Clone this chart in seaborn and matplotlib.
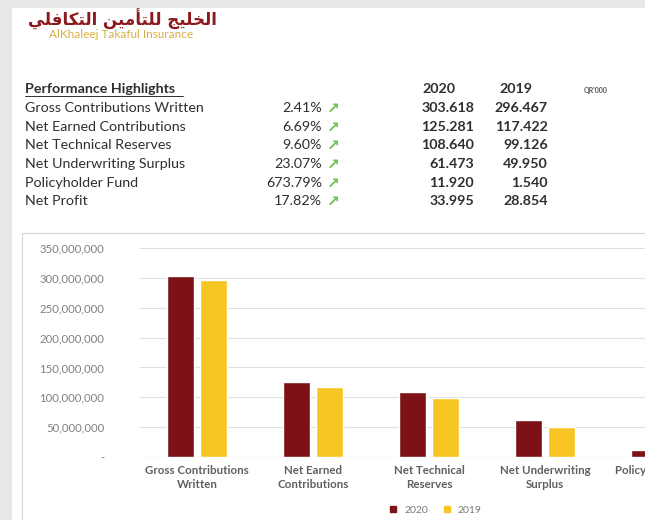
import seaborn as sns
import matplotlib.pyplot as plt
import pandas as pd
from matplotlib.patches import Rectangle
from matplotlib.lines import Line2D
from matplotlib.ticker import FuncFormatter

# Data (QR'000)
metrics = ["Gross Contributions Written", "Net Earned Contributions", "Net Technical Reserves",
           "Net Underwriting Surplus", "Policyholder Fund", "Net Profit"]
change_pct = ["2.41%", "6.69%", "9.60%", "23.07%", "673.79%", "17.82%"]
values_2020 = [303.618, 125.281, 108.640, 61.473, 11.920, 33.995]
values_2019 = [296.467, 117.422, 99.126, 49.950, 1.540, 28.854]
chart_labels = ["Gross Contributions\nWritten", "Net Earned\nContributions", "Net Technical\nReserves",
                "Net Underwriting\nSurplus", "Policyholder Fund", "Net Profit"]
years = ["2020", "2019"]
logo_ar = "الخليج للتأمين التكافلي"
logo_en = "AlKhaleej Takaful Insurance"

DARK_RED = "#7c1116"
GOLD = "#f8c624"

# matplotlib has no Arabic shaping: map letters to presentation forms, visual order
FORMS = {  # isolated, final, initial, medial
    'ا': ('\uFE8D', '\uFE8E', None, None),
    'أ': ('\uFE83', '\uFE84', None, None),
    'ل': ('\uFEDD', '\uFEDE', '\uFEDF', '\uFEE0'),
    'خ': ('\uFEA5', '\uFEA6', '\uFEA7', '\uFEA8'),
    'ي': ('\uFEF1', '\uFEF2', '\uFEF3', '\uFEF4'),
    'ج': ('\uFE9D', '\uFE9E', '\uFE9F', '\uFEA0'),
    'ت': ('\uFE95', '\uFE96', '\uFE97', '\uFE98'),
    'م': ('\uFEE1', '\uFEE2', '\uFEE3', '\uFEE4'),
    'ن': ('\uFEE5', '\uFEE6', '\uFEE7', '\uFEE8'),
    'ك': ('\uFED9', '\uFEDA', '\uFEDB', '\uFEDC'),
    'ف': ('\uFED1', '\uFED2', '\uFED3', '\uFED4'),
}


def shape_word(word):
    out = []
    for i, ch in enumerate(word):
        f = FORMS[ch]
        prev_j = i > 0 and FORMS[word[i - 1]][2] is not None
        next_j = i < len(word) - 1 and f[2] is not None
        if prev_j and next_j:
            out.append(f[3])
        elif prev_j:
            out.append(f[1])
        elif next_j:
            out.append(f[2])
        else:
            out.append(f[0])
    return ''.join(out)[::-1]


def shape_ar(text):
    return ' '.join(shape_word(w) for w in text.split()[::-1])


sns.set_theme(style="white")
plt.rcParams['font.family'] = ['Lato', 'DejaVu Sans']

W, H = 645, 520
fig = plt.figure(figsize=(W / 100, H / 100), dpi=100)
fig.patch.set_facecolor("#e8e8e8")


def px(x, y):
    return x / W, 1 - y / H


# white page and chart frame
fig.add_artist(Rectangle(px(12, H), 1, 1 - 8 / H, transform=fig.transFigure,
                         facecolor="white", edgecolor="none", zorder=0))
fig.add_artist(Rectangle(px(22, H + 10), 1, (H + 10 - 233) / H, transform=fig.transFigure,
                         facecolor="none", edgecolor="#d6d6d6", lw=0.8, zorder=1))

# logo
fig.text(*px(122, 19), shape_ar(logo_ar), family=['DejaVu Sans'], fontweight='bold',
         fontsize=12, color="#8b1a1f", ha='center', va='center')
fig.text(*px(121, 34), logo_en, fontsize=8.5, color="#d9ae45", ha='center', va='center')

# table
txt = "#2f2f2f"
fs = 10.3
fig.text(*px(25, 89), "Performance Highlights", fontsize=fs, fontweight='bold', color=txt,
         va='center', ha='left')
fig.add_artist(Line2D([25 / W, 183 / W], [1 - 96 / H] * 2, color=txt, lw=0.7))
fig.text(*px(422, 89), years[0], fontsize=fs, fontweight='bold', color=txt, va='center')
fig.text(*px(499, 89), years[1], fontsize=fs, fontweight='bold', color=txt, va='center')
fig.text(*px(584, 90), "QR'000", fontsize=5, fontweight='bold', color="#555555", va='center')

row_y = [108, 127, 145, 164, 183, 201]
for i, y in enumerate(row_y):
    fig.text(*px(25, y), metrics[i], fontsize=fs, color=txt, va='center', ha='left')
    fig.text(*px(322, y), change_pct[i], fontsize=fs, color=txt, va='center', ha='right')
    fig.text(*px(327, y), "\u2197", family=['DejaVu Sans'], fontsize=11, fontweight='bold',
             color="#6cc24a", va='center', ha='left')
    fig.text(*px(474, y), f"{values_2020[i]:.3f}", fontsize=fs, fontweight='bold', color=txt,
             va='center', ha='right')
    fig.text(*px(548, y), f"{values_2019[i]:.3f}", fontsize=fs, fontweight='bold', color=txt,
             va='center', ha='right')

# chart
df = pd.DataFrame({
    "Category": chart_labels * 2,
    "Year": [years[0]] * len(chart_labels) + [years[1]] * len(chart_labels),
    "Value": [v * 1e6 for v in values_2020 + values_2019],
})

ax = fig.add_axes([139 / W, 1 - 457 / H, 696 / W, 209 / H])
ax.set_facecolor("none")
sns.barplot(data=df, x="Category", y="Value", hue="Year", palette={years[0]: DARK_RED, years[1]: GOLD},
            saturation=1, width=0.57, gap=0.18, ax=ax, legend=False, zorder=3)
ax.set_xlim(-0.5, 5.5)
ax.set_ylim(0, 350e6)
ax.set_yticks(range(0, 350_000_001, 50_000_000))
ax.yaxis.set_major_formatter(FuncFormatter(lambda v, p: "-" if v == 0 else f"{v:,.0f}"))
ax.grid(axis='y', color="#e0e0e0", lw=0.8, zorder=0)
for s in ax.spines.values():
    s.set_visible(False)
ax.axhline(0, color="#d0d0d0", lw=0.8, zorder=2)
ax.set_xlabel("")
ax.set_ylabel("")
ax.tick_params(axis='y', length=0, pad=25, labelsize=8.2, labelcolor="#808080")
ax.tick_params(axis='x', length=0, pad=6, labelsize=8.3, labelcolor="#606060")
for lab in ax.get_xticklabels():
    lab.set_fontweight('bold')
    lab.set_linespacing(1.35)

handles = [Line2D([], [], marker='s', ls='', color=DARK_RED, markersize=5),
           Line2D([], [], marker='s', ls='', color=GOLD, markersize=5)]
fig.legend(handles, years, loc='center', bbox_to_anchor=px(432, 510), ncol=2, frameon=False,
           fontsize=7.5, handletextpad=0.1, columnspacing=0.8, labelcolor="#7a7a7a")

fig.savefig("out.png", dpi=100)
